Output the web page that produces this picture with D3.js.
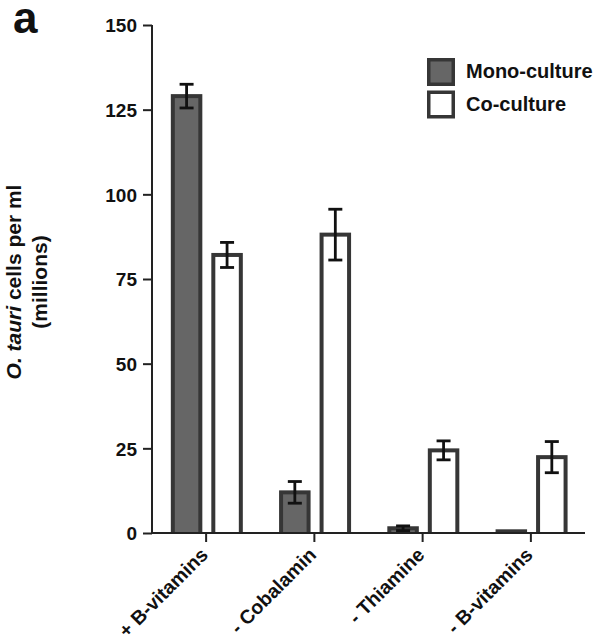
<!DOCTYPE html>
<html>
<head>
<meta charset="utf-8">
<script src="https://cdn.jsdelivr.net/npm/d3@7"></script>
<style>
  html, body { margin: 0; padding: 0; background: #fff; }
  svg { display: block; font-family: "Liberation Sans", Arial, Helvetica, sans-serif; font-weight: bold; }
</style>
</head>
<body>
<svg id="chart" width="597" height="643"></svg>
<script>
// Treatments along the x axis
const categories = ["+ B-vitamins", "- Cobalamin", "- Thiamine", "- B-vitamins"];
// Culture conditions (legend order)
const series = ["Mono-culture", "Co-culture"];
// Mean O. tauri cell density (millions per ml) and error (±)
const monoValues = [129.0, 12.0, 1.4, 0.5];
const monoErrors = [3.5, 3.2, 0.7, 0];
const coValues = [82.1, 88.1, 24.4, 22.4];
const coErrors = [3.7, 7.5, 2.8, 4.6];
// Y axis ticks
const yTicks = [0, 25, 50, 75, 100, 125, 150];

const fills = { "Mono-culture": "#666666", "Co-culture": "#ffffff" };
const edge = "#363636";
const ink = "#111111";
const border = 4;

const svg = d3.select("#chart");

const x0 = d3.scaleBand().domain(categories).range([152, 585]).padding(0);
const x1 = d3.scaleBand().domain(series).range([-36, 36]).paddingInner(0.222).paddingOuter(0);
const y = d3.scaleLinear().domain([0, 150]).range([533, 25]);

const rows = categories.map((c, i) => ({
  cat: c,
  bars: [
    { s: "Mono-culture", v: monoValues[i], e: monoErrors[i] },
    { s: "Co-culture", v: coValues[i], e: coErrors[i] }
  ]
}));

// Bars: dark outer box with the fill inset by the border width
const groups = svg.append("g").selectAll("g").data(rows).join("g")
  .attr("transform", d => `translate(${x0(d.cat) + x0.bandwidth() / 2 + 0.7},0)`);

const bar = groups.selectAll("g.bar").data(d => d.bars).join("g").attr("class", "bar");
bar.append("rect")
  .attr("x", d => x1(d.s))
  .attr("width", x1.bandwidth())
  .attr("y", d => y(d.v) - border / 2)
  .attr("height", d => y(0) - y(d.v) + border / 2)
  .attr("fill", edge);
bar.filter(d => y(0) - y(d.v) - border / 2 > 0).append("rect")
  .attr("x", d => x1(d.s) + border)
  .attr("width", x1.bandwidth() - 2 * border)
  .attr("y", d => y(d.v) + border / 2)
  .attr("height", d => y(0) - y(d.v) - border / 2)
  .attr("fill", d => fills[d.s]);

// Error bars
const err = groups.selectAll("g.err").data(d => d.bars.filter(b => b.e > 0)).join("g").attr("class", "err")
  .attr("stroke", ink).attr("stroke-width", 2.8).attr("fill", "none");
err.append("line")
  .attr("x1", d => x1(d.s) + x1.bandwidth() / 2).attr("x2", d => x1(d.s) + x1.bandwidth() / 2)
  .attr("y1", d => y(d.v + d.e)).attr("y2", d => y(d.v - d.e));
err.selectAll("line.cap").data(d => [[d, d.v + d.e], [d, d.v - d.e]]).join("line").attr("class", "cap")
  .attr("x1", d => x1(d[0].s) + x1.bandwidth() / 2 - 7).attr("x2", d => x1(d[0].s) + x1.bandwidth() / 2 + 7)
  .attr("y1", d => y(d[1])).attr("y2", d => y(d[1]));

// Y axis
const yAxis = svg.append("g").attr("transform", "translate(152,0)")
  .call(d3.axisLeft(y).tickValues(yTicks).tickSize(9).tickPadding(6).tickFormat(d3.format("d")));
yAxis.select(".domain").attr("stroke", "#222").attr("stroke-width", 2).attr("d", `M0,${y(150)}V${y(0)}`);
yAxis.selectAll(".tick line").attr("stroke", "#222").attr("stroke-width", 2);
yAxis.selectAll(".tick text").attr("fill", ink).style("font-size", "19px").style("font-weight", "bold")
  .style("font-family", "'Liberation Sans', Arial, sans-serif").attr("dy", "0.36em");

// X axis
const xAxis = svg.append("g").attr("transform", `translate(0,${y(0)})`)
  .call(d3.axisBottom(x0).tickSize(9).tickSizeOuter(0).tickFormat(""));
xAxis.select(".domain").attr("stroke", "#222").attr("stroke-width", 2).attr("d", "M151,0H585");
xAxis.selectAll(".tick line").attr("stroke", "#222").attr("stroke-width", 2);

// Rotated category labels
svg.append("g").selectAll("text").data(categories).join("text")
  .attr("transform", d => `translate(${x0(d) + x0.bandwidth() / 2 + 3},${y(0) + 23}) rotate(-45)`)
  .attr("text-anchor", "end")
  .attr("fill", ink)
  .style("font-size", "19.5px")
  .text(d => d);

// Y axis title (two lines)
const title = svg.append("text")
  .attr("transform", `translate(0,${(y(0) + y(150)) / 2 + 3}) rotate(-90)`)
  .attr("text-anchor", "middle").attr("fill", ink).style("font-size", "21px");
const t1 = title.append("tspan").attr("x", 0).attr("y", 21);
t1.append("tspan").style("font-style", "italic").text("O. tauri");
t1.append("tspan").text(" cells per ml");
title.append("tspan").attr("x", 0).attr("y", 47).text("(millions)");

// Panel letter
svg.append("text").attr("x", 13).attr("y", 33).attr("fill", ink)
  .style("font-size", "44px").text("a");

// Legend
const legend = svg.append("g").selectAll("g").data(series).join("g")
  .attr("transform", (d, i) => `translate(427,${58 + i * 32.5})`);
legend.append("rect").attr("x", 1.75).attr("y", 1.75).attr("width", 24.5).attr("height", 24.5)
  .attr("fill", d => fills[d]).attr("stroke", edge).attr("stroke-width", 3.5);
legend.append("text").attr("x", 39).attr("y", 20).attr("fill", ink)
  .style("font-size", "20px").text(d => d);
</script>
</body>
</html>
